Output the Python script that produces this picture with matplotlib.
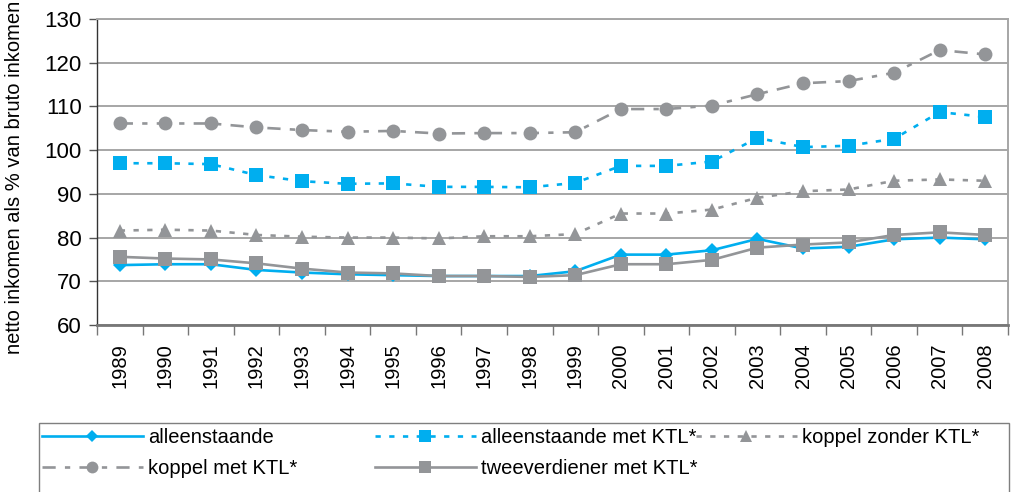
import matplotlib
matplotlib.use("Agg")
import matplotlib.pyplot as plt
from matplotlib.patches import Rectangle
from matplotlib.ticker import FixedLocator, NullFormatter

years = [str(y) for y in range(1989, 2009)]

alleenstaande = [73.7, 73.9, 73.9, 72.6, 72.0, 71.6, 71.4, 71.2, 71.2, 71.2,
                 72.3, 76.1, 76.1, 77.1, 79.7, 77.5, 77.9, 79.6, 80.0, 79.6]
alleenstaande_ktl = [97.0, 97.0, 96.8, 94.3, 92.9, 92.3, 92.4, 91.6, 91.6, 91.5,
                     92.5, 96.4, 96.4, 97.4, 102.8, 100.7, 101.0, 102.6, 108.7, 107.6]
koppel_zonder_ktl = [81.6, 81.8, 81.6, 80.6, 80.2, 80.0, 80.0, 79.8, 80.3, 80.3,
                     80.8, 85.5, 85.5, 86.4, 89.1, 90.6, 91.0, 93.0, 93.3, 93.0]
koppel_met_ktl = [106.1, 106.1, 106.1, 105.2, 104.6, 104.2, 104.4, 103.8, 103.9, 103.9,
                  104.1, 109.4, 109.4, 110.2, 112.8, 115.3, 115.8, 117.7, 122.9, 121.9]
tweeverdiener_ktl = [75.6, 75.2, 75.0, 74.1, 72.9, 72.0, 71.8, 71.2, 71.2, 71.0,
                     71.4, 73.9, 73.9, 74.9, 77.7, 78.4, 78.9, 80.6, 81.2, 80.6]

yticks = [60, 70, 80, 90, 100, 110, 120, 130]

BLUE = "#00aeef"
GREY = "#939598"
plt.rcParams["font.family"] = ["Liberation Sans", "DejaVu Sans"]

fig = plt.figure(figsize=(10.13, 4.92), dpi=100)
ax = fig.add_axes([97 / 1013, 1 - 325 / 492, (1008 - 97) / 1013, (325 - 19) / 492])

x = list(range(len(years)))
lw = 1.9
series = [
    ("alleenstaande", alleenstaande,
     dict(color=BLUE, linestyle="-", marker="D", markersize=7)),
    ("alleenstaande met KTL*", alleenstaande_ktl,
     dict(color=BLUE, linestyle=(0, (2, 3.2)), marker="s", markersize=9.5)),
    ("koppel zonder KTL*", koppel_zonder_ktl,
     dict(color=GREY, linestyle=(0, (2, 3.2)), marker="^", markersize=10)),
    ("koppel met KTL*", koppel_met_ktl,
     dict(color=GREY, linestyle=(0, (5, 3.5, 2, 3.5)), marker="o", markersize=10)),
    ("tweeverdiener met KTL*", tweeverdiener_ktl,
     dict(color=GREY, linestyle="-", marker="s", markersize=9.5)),
]
draw_order = [4, 0, 2, 1, 3]
handles = {}
for i in draw_order:
    label, vals, st = series[i]
    (ln,) = ax.plot(x, vals, linewidth=lw, markeredgewidth=0, label=label,
                    zorder=3 + i * 0.1, **st)
    handles[i] = ln

ax.set_xlim(-0.5, len(years) - 0.5)
ax.set_ylim(60, 130)
ax.set_yticks(yticks)
ax.set_yticklabels([str(v) for v in yticks], fontsize=16)
ax.yaxis.grid(True, color="#a6a6a6", linewidth=1.4)
ax.set_axisbelow(True)

ax.xaxis.set_major_locator(FixedLocator([i - 0.5 for i in range(len(years) + 1)]))
ax.xaxis.set_major_formatter(NullFormatter())
ax.xaxis.set_minor_locator(FixedLocator(x))
ax.set_xticklabels(years, minor=True, rotation=90, fontsize=14.5)
ax.tick_params(axis="x", which="major", length=7, width=1, color="#777777", direction="out")
ax.tick_params(axis="x", which="minor", length=0, pad=13)
ax.tick_params(axis="y", length=6, width=1, color="#555555", pad=5)

for side in ("top", "right"):
    ax.spines[side].set_color("#a6a6a6")
    ax.spines[side].set_linewidth(1.4)
ax.spines["left"].set_color("#333333")
ax.spines["left"].set_linewidth(1.0)
ax.spines["bottom"].set_color("#777777")
ax.spines["bottom"].set_linewidth(2.0)

ax.set_ylabel("netto inkomen als % van bruto inkomen", fontsize=14.5)
ax.yaxis.set_label_coords(-0.080, 0.484)

# legend frame
fig.patches.append(Rectangle((39 / 1013, 1 - 540 / 492), (1009 - 39) / 1013, (540 - 423) / 492,
                             transform=fig.transFigure, fill=False,
                             edgecolor="#7f7f7f", linewidth=1.0))

legend_cols = [([0, 3], 40), ([1, 4], 373), ([2], 694)]
for idxs, px in legend_cols:
    fig.legend([handles[i] for i in idxs], [series[i][0] for i in idxs],
               loc="upper left", bbox_to_anchor=(px / 1013, 1 - 426 / 492),
               frameon=False, fontsize=14.5, handlelength=5.0, handletextpad=0.25,
               labelspacing=0.6, borderaxespad=0, borderpad=0.1, markerscale=0.85)

fig.savefig("out.png", dpi=100)
